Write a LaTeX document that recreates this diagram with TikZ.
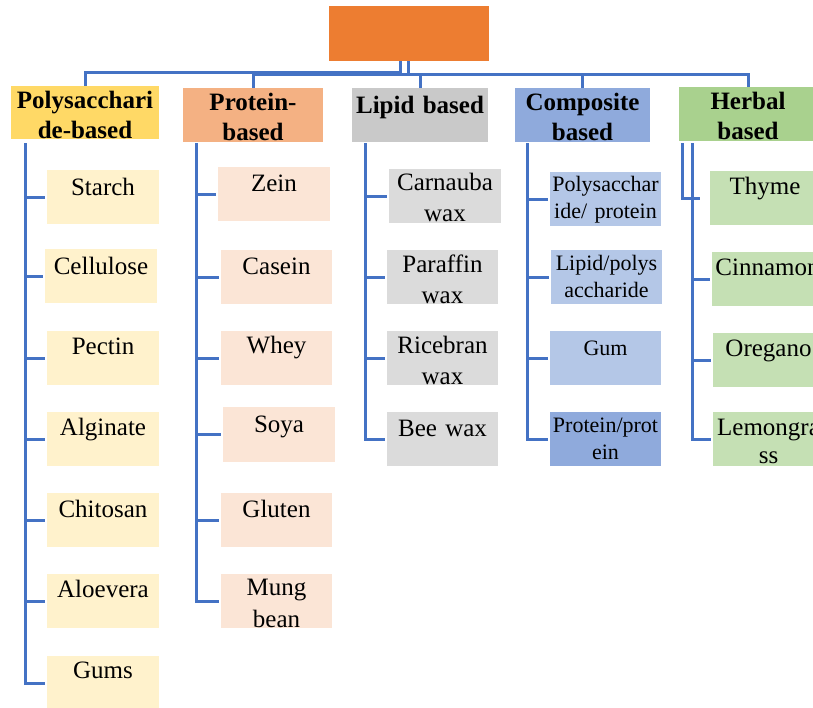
\documentclass[tikz,border=0pt]{standalone}
\usepackage{fontspec}
\setmainfont{Liberation Serif}
\usetikzlibrary{calc}
\definecolor{rootorange}{HTML}{ED7D31}
\definecolor{lineblue}{HTML}{4472C4}
\definecolor{polycat}{HTML}{FFD966}
\definecolor{polychild}{HTML}{FFF2CC}
\definecolor{protcat}{HTML}{F4B183}
\definecolor{protchild}{HTML}{FBE5D6}
\definecolor{lipcat}{HTML}{C9C9C9}
\definecolor{lipchild}{HTML}{DBDBDB}
\definecolor{compcat}{HTML}{8FAADC}
\definecolor{compchild}{HTML}{B4C7E7}
\definecolor{herbcat}{HTML}{A9D18E}
\definecolor{herbchild}{HTML}{C5E0B4}
% name, x1, y1, x2, y2, baseline, style, text
\newcommand\bx[8]{\node[#7, text width={\dimexpr #4pt-#2pt\relax}, text height={\dimexpr #6pt-#3pt\relax}, text depth={\dimexpr #5pt-#6pt\relax}] (#1) at ({(#2+#4)/2},{(#3+#5)/2}) {#8};}
\tikzset{
  basebox/.style={inner sep=0pt, outer sep=0pt, align=center, draw=none},
  catbox/.style={basebox, font=\bfseries\fontsize{25}{30}\selectfont},
  childbox/.style={basebox, font=\fontsize{25}{31}\selectfont},
  compbox/.style={basebox, font=\fontsize{22}{27}\selectfont, fill=compchild},
  polycatbox/.style={catbox, fill=polycat},
  protcatbox/.style={catbox, fill=protcat},
  lipcatbox/.style={catbox, fill=lipcat},
  compcatbox/.style={catbox, fill=compcat},
  herbcatbox/.style={catbox, fill=herbcat},
  polybox/.style={childbox, font=\fontsize{25}{30}\selectfont, fill=polychild},
  protbox/.style={childbox, font=\fontsize{25}{32}\selectfont, fill=protchild},
  lipbox/.style={childbox, fill=lipchild},
  compdarkbox/.style={compbox, fill=compcat},
  herbbox/.style={childbox, font=\fontsize{25}{28}\selectfont, fill=herbchild},
  conn/.style={draw=lineblue, line width=3pt},
  branch/.style={conn, shorten >=2.5pt}
}
\begin{document}
\begin{tikzpicture}[x=1pt, y=-1pt]
\useasboundingbox (0,0) rectangle (813,707);
\clip (0,0) rectangle (813,707);
\fill[white] (0,0) rectangle (813,707);

% root
\node[basebox, fill=rootorange, minimum width=160pt, minimum height=55pt] (root) at (409,33.5) {};

% categories
\bx{c1}{11}{86}{159}{139}{108}{polycatbox}{Polysacchari\\de-based}
\bx{c2}{183}{88}{323}{142}{110}{protcatbox}{Protein-\\based}
\bx{c3}{352}{88}{488}{142}{113}{lipcatbox}{Lipid based}
\bx{c4}{515}{88}{650}{142}{110}{compcatbox}{Composite\\based}
\bx{c5}{679}{87}{817}{141}{109}{herbcatbox}{Herbal\\based}

% polysaccharide children
\bx{p1}{47}{170}{159}{224}{195}{polybox}{Starch}
\bx{p2}{45}{249}{157}{303}{274}{polybox}{Cellulose}
\bx{p3}{47}{331}{159}{385}{354}{polybox}{Pectin}
\bx{p4}{47}{412}{159}{466}{435}{polybox}{Alginate}
\bx{p5}{47}{493}{159}{547}{517}{polybox}{Chitosan}
\bx{p6}{47}{574}{159}{628}{597}{polybox}{Aloevera}
\bx{p7}{47}{656}{159}{710}{678}{polybox}{Gums}

% protein children
\bx{q1}{218}{167}{330}{221}{191}{protbox}{Zein}
\bx{q2}{221}{250}{332}{304}{274}{protbox}{Casein}
\bx{q3}{221}{331}{332}{385}{353}{protbox}{Whey}
\bx{q4}{223}{407}{335}{462}{432}{protbox}{Soya}
\bx{q5}{221}{493}{332}{547}{517}{protbox}{Gluten}
\bx{q6}{221}{574}{332}{628}{595}{protbox}{Mung\\bean}

% lipid children
\bx{l1}{389}{169}{501}{223}{190}{lipbox}{Carnauba\\wax}
\bx{l2}{387}{250}{498}{304}{272}{lipbox}{Paraffin\\wax}
\bx{l3}{387}{331}{498}{385}{353}{lipbox}{Ricebran\\wax}
\bx{l4}{387}{412}{498}{466}{436}{lipbox}{Bee wax}

% composite children
\bx{m1}{550}{172}{661}{226}{191}{compbox}{Polysacchar\\ide/ protein}
\bx{m2}{551}{250}{662}{304}{270}{compbox}{Lipid/polys\\accharide}
\bx{m3}{550}{331}{661}{385}{355}{compbox}{Gum}
\bx{m4}{550}{412}{661}{466}{432}{compdarkbox}{Protein/prot\\ein}

% herbal children
\bx{h1}{710}{171}{820}{225}{194}{herbbox}{Thyme}
\bx{h2}{712}{252}{823}{306}{275}{herbbox}{Cinnamon}
\bx{h3}{713}{333}{824}{387}{356}{herbbox}{Oregano}
\bx{h4}{713}{412}{824}{466}{435}{herbbox}{Lemongra\\ss}

% top connectors
\coordinate (busA) at (400,72);
\coordinate (busB) at (408,74);
\draw[conn] (root.south -| busA) -- (busA) -| (c1.north);
\draw[conn] (root.south -| busB) -- (busB) -| (c2.north);
\draw[conn] (busB) -| (c3.north);
\draw[conn] (busB) -| (c4.north);
\draw[conn] (busB) -| (c5.north);

% column trunks
\coordinate (v1) at (25,143);
\coordinate (v2) at (196,143);
\coordinate (v3) at (365,143);
\coordinate (v4) at (527,143);
\coordinate (v5a) at (682,143);
\coordinate (v5b) at (692,143);
\coordinate (thymeend) at (700,198);

\foreach \n in {p1,p2,p3,p4,p5,p6,p7} \draw[branch] (v1) |- (\n.west);
\foreach \n in {q1,q2,q3,q4,q5,q6} \draw[branch] (v2) |- (\n.west);
\foreach \n in {l1,l2,l3,l4} \draw[branch] (v3) |- (\n.west);
\foreach \n in {m1,m2,m3,m4} \draw[branch] (v4) |- (\n.west);
\draw[conn] (v5a) |- (thymeend);
\foreach \n in {h2,h3,h4} \draw[branch] (v5b) |- (\n.west);
\end{tikzpicture}
\end{document}
